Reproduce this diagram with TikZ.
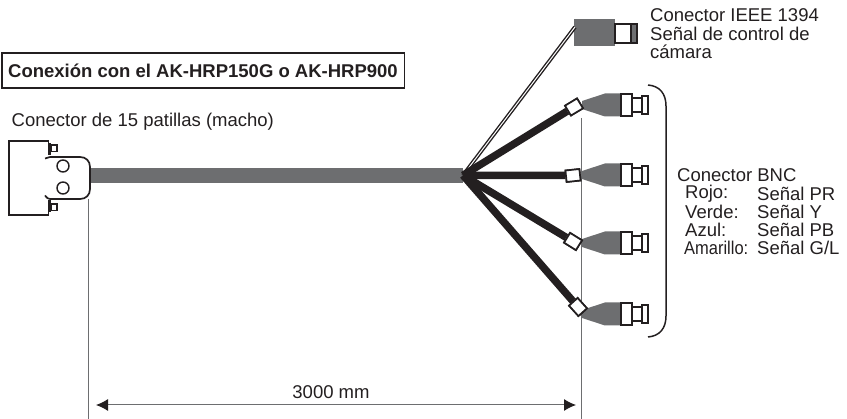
\documentclass[tikz,border=0pt]{standalone}
\usepackage{fontspec}
\setmainfont{Liberation Sans}
\usetikzlibrary{arrows.meta}
\definecolor{cablegray}{HTML}{6D6E70}
\definecolor{inkblack}{HTML}{231F20}
\tikzset{
	every node/.style={font=\fontsize{18.5}{18.6}\selectfont,text=inkblack,inner sep=0pt},
	label/.style={anchor=west,align=left},
	outline/.style={draw=inkblack,line width=1.7pt},
	boot/.style={fill=cablegray,draw=none},
	ferrule/.style={draw=inkblack,line width=1.7pt,fill=white,minimum width=14pt,minimum height=11.5pt},
	wire/.style={draw=inkblack,line width=7.5pt},
	extline/.style={draw=cablegray,line width=1pt},
}
% one BNC plug, #1 = name, #2 = height of its axis
\newcommand{\bncplug}[2]{
	\coordinate (#1) at (582,#2);
	\fill[boot] (582,#2-4) -- (605,#2-11.5) -- (621,#2-11.5) -- (621,#2+11.5) -- (605,#2+11.5) -- (582,#2+4) -- cycle;
	\draw[outline,fill=white] (632,#2-7) rectangle (642,#2+7);
	\draw[outline,fill=white] (642,#2-9) rectangle (648,#2+9);
	\draw[outline,fill=white] (621,#2-11) rectangle (632,#2+11);
}
\begin{document}
\begin{tikzpicture}[x=1pt,y=-1pt]
	\useasboundingbox (0,0) rectangle (847,419);

	% dimension lines
	\coordinate (extA) at (88.5,199);
	\coordinate (extAend) at (88.5,419);
	\coordinate (extB) at (581,118);
	\coordinate (extBend) at (581,419);
	\coordinate (dimA) at (96,405);
	\coordinate (dimB) at (576,405);
	\draw[extline] (extA) -- (extAend);
	\draw[extline] (extB) -- (extBend);
	\draw[draw=cablegray,line width=1pt,{Latex[inkblack,length=12pt,width=12pt]}-{Latex[inkblack,length=12pt,width=12pt]}] (dimA) -- (dimB);
	\node (length) at (331,392) {3000 mm};

	% title
	\node[draw=inkblack,line width=1.5pt,minimum width=402.5pt,minimum height=35pt,anchor=north west,font=\fontsize{18.5}{18.6}\bfseries] (title) at (1,52.5) {Conexión con el AK-HRP150G o AK-HRP900};

	% plug on the left
	\node[label] (plugtext) at (11.5,122) {Conector de 15 patillas (macho)};
	\draw[outline] (45,158.5) .. controls (47,157) and (48,157) .. (50,157) -- (80,157) .. controls (86,157) and (90,161) .. (90,167) -- (90,189) .. controls (90,195) and (86,199) .. (80,199) -- (50,199) .. controls (48,199) and (47,198) .. (45,195.5);
	\draw[outline] (48.5,155) -- (48.5,141) -- (9,141) -- (9,215) -- (48.5,215) -- (48.5,200);
	\draw[outline,fill=white] (51,145) rectangle (57,151.5);
	\draw[outline,fill=white] (51,204) rectangle (57,210.5);
	\draw[outline] (50,143.5) -- (50,155) (50,200) -- (50,212);
	\node[draw=inkblack,line width=1.4pt,circle,minimum size=12pt] (pinA) at (63,166) {};
	\node[draw=inkblack,line width=1.4pt,circle,minimum size=12pt] (pinB) at (63,188) {};

	% main cable
	\coordinate (cableA) at (91,175.3);
	\coordinate (hub) at (463,175.3);
	\draw[draw=cablegray,line width=15pt] (cableA) -- (hub);

	% IEEE 1394
	\coordinate (fwin) at (575,27);
	\node[boot,minimum width=41pt,minimum height=27pt,anchor=west] (fw) at (574,32.5) {};
	\draw[outline,fill=white] (615,24) rectangle (631,43);
	\draw[outline,fill=cablegray] (631,24) rectangle (637,43);
	\draw[draw=inkblack,line width=3.8pt] (hub) -- (fwin);
	\draw[draw=white,line width=1pt] (hub) -- (fwin);
	\node[label] (fwtext) at (650,34) {Conector IEEE 1394\\Señal de control de\\cámara};

	% BNC plugs
	\bncplug{bncA}{105}
	\bncplug{bncB}{175}
	\bncplug{bncC}{243}
	\bncplug{bncD}{314}
	\node[ferrule,rotate=31] (ferA) at (574,107) {};
	\node[ferrule,rotate=6] (ferB) at (573,175.5) {};
	\node[ferrule,rotate=-32] (ferC) at (573,241.5) {};
	\node[ferrule,rotate=-48] (ferD) at (578,307) {};
	\foreach \fer in {ferA,ferB,ferC,ferD}
		\draw[wire] (hub) -- (\fer);
	\foreach \fer/\ang in {ferA/31,ferB/6,ferC/-32,ferD/-48}
		\node[ferrule,rotate=\ang] at (\fer) {};

	% bracket
	\coordinate (brA) at (648,85);
	\coordinate (brB) at (648,337);
	\draw[draw=inkblack,line width=1.5pt] (brA) .. controls (660,86) and (666,94) .. (666,106) -- (666,316) .. controls (666,328) and (660,336) .. (brB);

	\node[label] (bnctext) at (677,175) {Conector BNC};
	\node[label] (rojo) at (685,194) {Rojo:};
	\node[label] (rojoval) at (757,194) {Señal PR};
	\node[label] (verde) at (685,212) {Verde:};
	\node[label] (verdeval) at (757,212) {Señal Y};
	\node[label] (azul) at (685,230) {Azul:};
	\node[label] (azulval) at (757,230) {Señal PB};
	\node[label] (amarillo) at (684,248) {\scalebox{0.89}[1]{Amarillo:}};
	\node[label] (amarilloval) at (757,248) {Señal G/L};
\end{tikzpicture}
\end{document}
